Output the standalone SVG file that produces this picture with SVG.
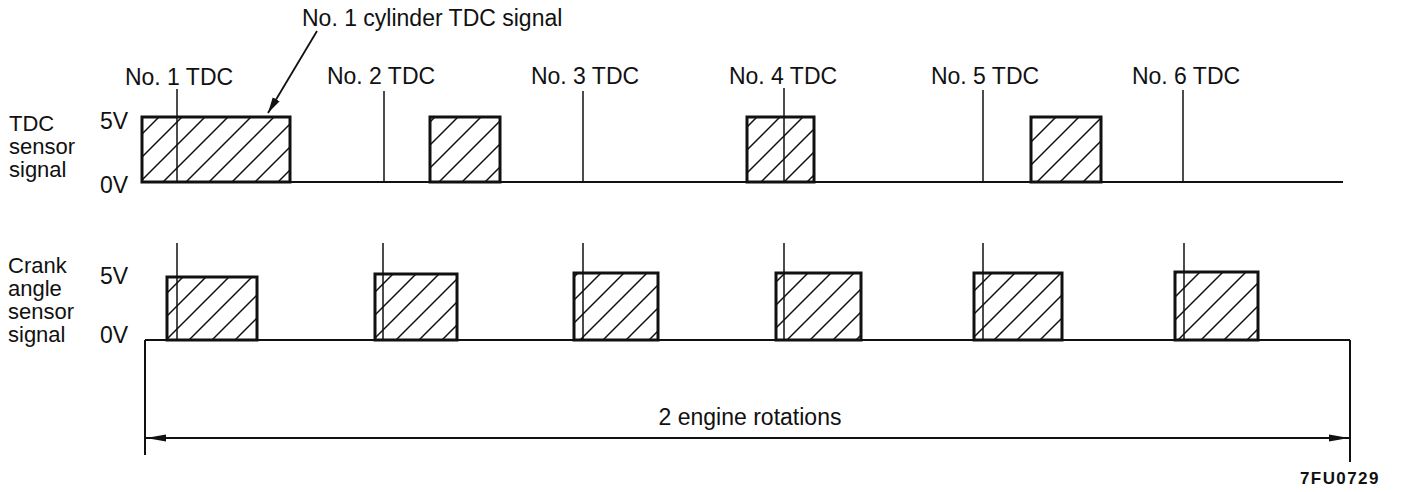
<svg xmlns="http://www.w3.org/2000/svg" width="1402" height="492" viewBox="0 0 1402 492">
<style>
text{font-family:"Liberation Sans",Arial,sans-serif;font-size:23px;fill:#111}
.c{text-anchor:middle}
.side{font-size:22px}
.pulse{fill:url(#hatch);stroke:#111;stroke-width:3;stroke-linejoin:miter}
.base{stroke:#111;stroke-width:2;fill:none}
.mark{stroke:#111;stroke-width:1.5;fill:none}
.code{font-weight:bold;font-size:17px;letter-spacing:1.4px}
</style>
<defs>
<pattern id="hatch" patternUnits="userSpaceOnUse" width="23" height="23">
<path d="M-6,6 L6,-6 M0,23 L23,0 M17,29 L29,17" stroke="#111" stroke-width="1.5"/>
</pattern>
<marker id="ah" viewBox="0 0 20 10" refX="20" refY="5" markerWidth="20" markerHeight="10" markerUnits="userSpaceOnUse" orient="auto">
<path d="M0,1.5 L20,5 L0,8.5 Z" fill="#111"/>
</marker>
<marker id="ah2" viewBox="0 0 16 10" refX="16" refY="5" markerWidth="16" markerHeight="10" markerUnits="userSpaceOnUse" orient="auto">
<path d="M0,1 L16,5 L0,9 Z" fill="#111"/>
</marker>
</defs>

<g id="tdc-labels">
<text class="side" x="9" y="131">TDC</text>
<text class="side" x="9" y="154">sensor</text>
<text class="side" x="9" y="177">signal</text>
<text x="100" y="129">5V</text>
<text x="100" y="193">0V</text>
</g>

<g id="crank-labels">
<text class="side" x="8" y="273">Crank</text>
<text class="side" x="8" y="296">angle</text>
<text class="side" x="8" y="319">sensor</text>
<text class="side" x="8" y="342">signal</text>
<text x="100" y="284">5V</text>
<text x="100" y="343">0V</text>
</g>

<g id="tdc-signal">
<line class="base" x1="141" y1="182" x2="1343" y2="182"/>
<rect class="pulse" x="142" y="117" width="148" height="65"/>
<rect class="pulse" x="430" y="117" width="70" height="65"/>
<rect class="pulse" x="747" y="117" width="67" height="65"/>
<rect class="pulse" x="1031" y="117" width="70" height="65"/>
</g>

<g id="tdc-marks">
<line class="mark" x1="177" y1="89" x2="177" y2="182"/>
<line class="mark" x1="384" y1="91" x2="384" y2="182"/>
<line class="mark" x1="583" y1="91" x2="583" y2="182"/>
<line class="mark" x1="784" y1="88" x2="784" y2="182"/>
<line class="mark" x1="983" y1="90" x2="983" y2="182"/>
<line class="mark" x1="1183" y1="90" x2="1183" y2="182"/>
<text class="c" x="179" y="85">No. 1 TDC</text>
<text class="c" x="381" y="84">No. 2 TDC</text>
<text class="c" x="585" y="84">No. 3 TDC</text>
<text class="c" x="783" y="84">No. 4 TDC</text>
<text class="c" x="985" y="84">No. 5 TDC</text>
<text class="c" x="1186" y="84">No. 6 TDC</text>
</g>

<g id="crank-signal">
<line class="base" x1="145" y1="340" x2="1350" y2="340"/>
<rect class="pulse" x="167" y="277" width="90" height="63"/>
<rect class="pulse" x="375" y="274" width="82" height="66"/>
<rect class="pulse" x="574" y="273" width="84" height="67"/>
<rect class="pulse" x="776" y="273" width="85" height="67"/>
<rect class="pulse" x="974" y="273" width="88" height="67"/>
<rect class="pulse" x="1175" y="272" width="83" height="68"/>
<line class="mark" x1="177" y1="243" x2="177" y2="340"/>
<line class="mark" x1="383" y1="243" x2="383" y2="340"/>
<line class="mark" x1="583" y1="243" x2="583" y2="340"/>
<line class="mark" x1="784" y1="243" x2="784" y2="340"/>
<line class="mark" x1="983" y1="243" x2="983" y2="340"/>
<line class="mark" x1="1184" y1="243" x2="1184" y2="340"/>
</g>

<g id="callout">
<text x="302" y="26">No. 1 cylinder TDC signal</text>
</g>

<g id="dimension">
<line class="base" x1="145" y1="340" x2="145" y2="455"/>
<line class="base" x1="1350" y1="340" x2="1350" y2="462"/>
<text class="c" x="750" y="425">2 engine rotations</text>
</g>

<g id="connectors">
<line x1="317" y1="31" x2="268" y2="113" stroke="#111" stroke-width="1.8" marker-end="url(#ah2)"/>
<line x1="1000" y1="438" x2="146" y2="438" stroke="#111" stroke-width="1.8" marker-end="url(#ah)"/>
<line x1="700" y1="438" x2="1349" y2="438" stroke="#111" stroke-width="1.8" marker-end="url(#ah)"/>
</g>

<text class="code" x="1300" y="484">7FU0729</text>
</svg>
